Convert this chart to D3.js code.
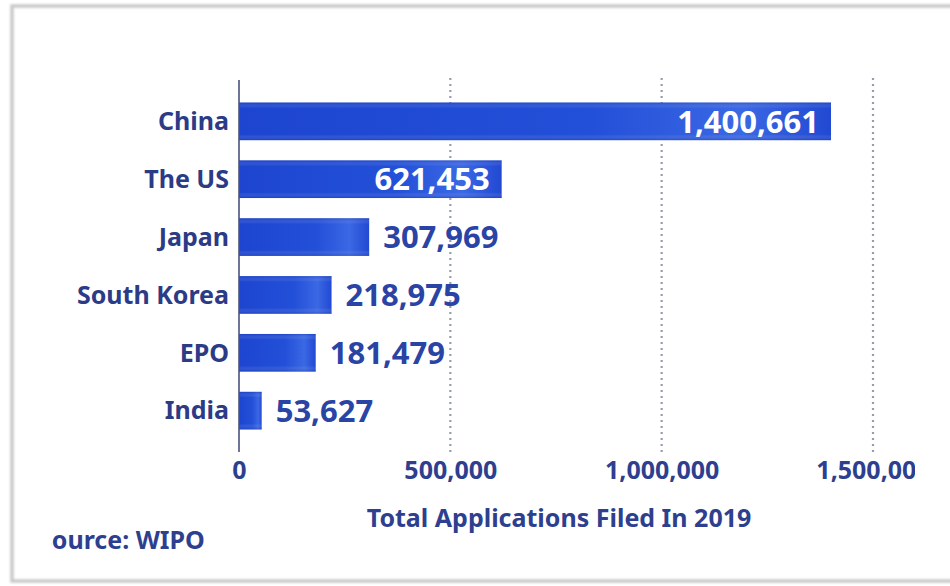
<!DOCTYPE html>
<html>
<head>
<meta charset="utf-8">
<script src="https://cdn.jsdelivr.net/npm/d3@7"></script>
<style>
  html, body { margin: 0; padding: 0; background: #ffffff; }
  svg { display: block; }
  text { font-family: "Noto Sans", "Open Sans", sans-serif; }
</style>
</head>
<body>
<script>
// Patent applications filed in 2019, by office
const categories = ["China", "The US", "Japan", "South Korea", "EPO", "India"];
const applications = [1400661, 621453, 307969, 218975, 181479, 53627];
const tickValues = [0, 500000, 1000000, 1500000];
const axisTitle = "Total Applications Filed In 2019";
const sourceNote = "Source: WIPO";

const W = 950, H = 586;
const svg = d3.select("body").append("svg").attr("width", W).attr("height", H);
const defs = svg.append("defs");

// soft frame around the panel
const shadow = defs.append("filter").attr("id", "frameBlur");
shadow.append("feGaussianBlur").attr("stdDeviation", 1.2);
svg.append("rect")
  .attr("x", 12).attr("y", 6).attr("width", 980).attr("height", 575)
  .attr("fill", "none").attr("stroke", "#c9c9c9").attr("stroke-width", 3.5)
  .attr("filter", "url(#frameBlur)");

// bar fill: deep blue with a lighter sheen towards the right end
const grad = defs.append("linearGradient").attr("id", "barFill")
  .attr("x1", "0").attr("x2", "1").attr("y1", "0").attr("y2", "0");
grad.append("stop").attr("offset", "0%").attr("stop-color", "#1d45d0");
grad.append("stop").attr("offset", "60%").attr("stop-color", "#2350d8");
grad.append("stop").attr("offset", "85%").attr("stop-color", "#3b68e4");
grad.append("stop").attr("offset", "100%").attr("stop-color", "#2149d2");

const vgrad = defs.append("linearGradient").attr("id", "barShade")
  .attr("x1", "0").attr("x2", "0").attr("y1", "0").attr("y2", "1");
vgrad.append("stop").attr("offset", "0%").attr("stop-color", "#0f2fa8").attr("stop-opacity", 0.35);
vgrad.append("stop").attr("offset", "15%").attr("stop-color", "#ffffff").attr("stop-opacity", 0.0);
vgrad.append("stop").attr("offset", "85%").attr("stop-color", "#ffffff").attr("stop-opacity", 0.0);
vgrad.append("stop").attr("offset", "100%").attr("stop-color", "#0f2fa8").attr("stop-opacity", 0.35);

const x = d3.scaleLinear().domain([0, 1500000]).range([239, 873]);
const y = d3.scaleBand().domain(categories).range([80, 452])
  .paddingInner(0.35).paddingOuter(0.39);

const axisTop = 78, axisBottom = 452;

// dotted vertical gridlines
svg.append("g").selectAll("line")
  .data(tickValues.filter(d => d > 0))
  .join("line")
  .attr("x1", d => x(d)).attr("x2", d => x(d))
  .attr("y1", axisTop).attr("y2", axisBottom)
  .attr("stroke", "#979db0").attr("stroke-width", 2.2)
  .attr("stroke-dasharray", "2,4");

// bars
const rows = categories.map((c, i) => ({ name: c, value: applications[i] }));
const bars = svg.append("g");
bars.selectAll("rect.bar")
  .data(rows).join("rect").attr("class", "bar")
  .attr("x", x(0)).attr("y", d => y(d.name))
  .attr("width", d => x(d.value) - x(0)).attr("height", y.bandwidth())
  .attr("fill", "url(#barFill)");
bars.selectAll("rect.shade")
  .data(rows).join("rect").attr("class", "shade")
  .attr("x", x(0)).attr("y", d => y(d.name))
  .attr("width", d => x(d.value) - x(0)).attr("height", y.bandwidth())
  .attr("fill", "url(#barShade)");

// y axis line
svg.append("line")
  .attr("x1", x(0)).attr("x2", x(0)).attr("y1", 80).attr("y2", 452)
  .attr("stroke", "#4a5478").attr("stroke-width", 1.6);

// category labels
svg.append("g").selectAll("text")
  .data(rows).join("text")
  .attr("x", x(0) - 10)
  .attr("y", d => y(d.name) + y.bandwidth() / 2)
  .attr("dy", "0.35em")
  .attr("text-anchor", "end")
  .attr("font-size", 25).attr("font-weight", 700)
  .attr("fill", "#2c3b85")
  .text(d => d.name);

// value labels: inside long bars, beside short ones
const fmt = d3.format(",");
const insideMin = 500000;
svg.append("g").selectAll("text")
  .data(rows).join("text")
  .attr("x", d => d.value > insideMin ? x(d.value) - 12 : x(d.value) + 14)
  .attr("y", d => y(d.name) + y.bandwidth() / 2)
  .attr("dy", "0.36em")
  .attr("text-anchor", d => d.value > insideMin ? "end" : "start")
  .attr("font-size", 31).attr("font-weight", 700)
  .attr("fill", d => d.value > insideMin ? "#ffffff" : "#2a44a6")
  .text(d => fmt(d.value));

// x axis tick labels (the panel edge trims the last one)
const axisY = 470;
defs.append("clipPath").attr("id", "tickClip")
  .append("rect").attr("x", 0).attr("y", -axisY).attr("width", 915).attr("height", H);
const xAxis = d3.axisBottom(x).tickValues(tickValues).tickFormat(fmt).tickSize(0).tickPadding(0);
const gx = svg.append("g")
  .attr("transform", `translate(0,${axisY})`)
  .attr("clip-path", "url(#tickClip)")
  .call(xAxis);
gx.select(".domain").remove();
gx.selectAll("text")
  .attr("font-family", "\"Noto Sans\", sans-serif")
  .attr("font-size", 25).attr("font-weight", 700)
  .attr("fill", "#2d3f8e").attr("dy", "0.35em");

// axis title
svg.append("text")
  .attr("x", 559).attr("y", 518).attr("dy", "0.35em")
  .attr("text-anchor", "middle")
  .attr("font-size", 25).attr("font-weight", 700)
  .attr("fill", "#2d3f8e")
  .text(axisTitle);

// source note, trimmed at the left edge of its panel
defs.append("clipPath").attr("id", "srcClip")
  .append("rect").attr("x", 51).attr("y", 0).attr("width", 400).attr("height", H);
svg.append("text")
  .attr("clip-path", "url(#srcClip)")
  .attr("x", 38).attr("y", 540).attr("dy", "0.35em")
  .attr("font-size", 25).attr("font-weight", 700)
  .attr("fill", "#2d3f8e")
  .text(sourceNote);
</script>
</body>
</html>
